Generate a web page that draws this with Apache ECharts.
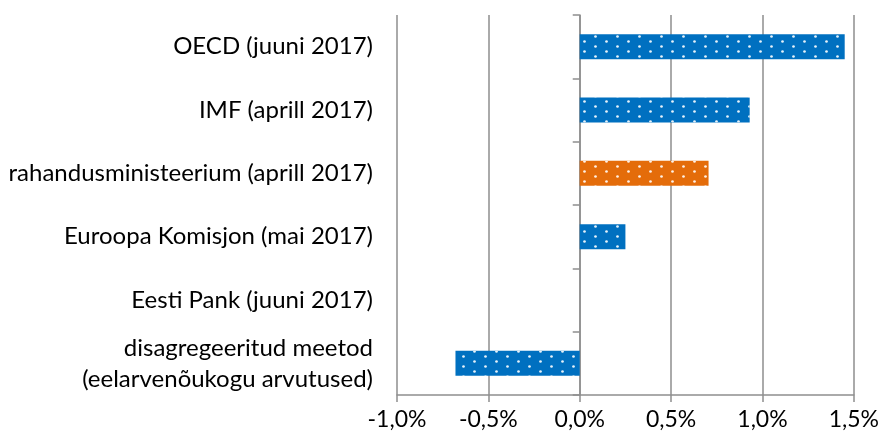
<!DOCTYPE html>
<html>
<head>
<meta charset="utf-8">
<script src="https://cdn.jsdelivr.net/npm/echarts@6/dist/echarts.min.js"></script>
<style>
  html, body { margin: 0; padding: 0; background: #fff; }
  #chart { width: 882px; height: 436px; }
</style>
</head>
<body>
<div id="chart"></div>
<script>
// categories top to bottom
const categories = [
  'OECD (juuni 2017)',
  'IMF (aprill 2017)',
  'rahandusministeerium (aprill 2017)',
  'Euroopa Komisjon (mai 2017)',
  'Eesti Pank (juuni 2017)',
  'disagregeeritud meetod\n(eelarvenõukogu arvutused)'
];
const values = [1.45, 0.93, 0.705, 0.25, 0, -0.68];
const highlighted = [2]; // orange bar
const xTicks = [-1.0, -0.5, 0.0, 0.5, 1.0, 1.5];

const blue = '#0070C0';
const orange = '#E46C0A';
const gridGray = '#8e8e8e';
const font = 'Lato';

const dots = {
  symbol: 'circle',
  symbolSize: 0.9,
  color: 'rgba(255,255,255,0.9)',
  dashArrayX: [[3, 19], [0, 11, 3, 8]],
  dashArrayY: [3, 2]
};

const barData = values.map((v, i) => {
  const isOrange = highlighted.indexOf(i) >= 0;
  return {
    value: v,
    itemStyle: { color: isOrange ? orange : blue, decal: dots }
  };
});

const myChart = echarts.init(document.getElementById('chart'));

const option = {
  animation: false,
  backgroundColor: '#fff',
  aria: { enabled: false },
  grid: { left: 397, right: 25, top: 15, bottom: 41 },
  xAxis: {
    type: 'value',
    min: xTicks[0],
    max: xTicks[xTicks.length - 1],
    interval: 0.5,
    axisLine: { show: true, lineStyle: { color: gridGray, width: 1.5 } },
    axisTick: { show: true, length: 7, lineStyle: { color: gridGray, width: 1.5 } },
    splitLine: { show: true, lineStyle: { color: gridGray, width: 1.5 } },
    axisLabel: {
      margin: 13,
      color: '#000',
      fontFamily: font,
      fontSize: 23,
      formatter: (v) => v.toFixed(1).replace('.', ',') + '%'
    }
  },
  yAxis: [
    {
      type: 'category',
      data: categories,
      inverse: true,
      position: 'left',
      axisLine: { show: false, onZero: false },
      axisTick: { show: false },
      axisLabel: {
        margin: 24,
        color: '#000',
        fontFamily: font,
        fontSize: 24,
        lineHeight: 31,
        align: 'right'
      }
    },
    {
      type: 'category',
      data: categories,
      inverse: true,
      position: 'left',
      axisLine: { show: true, onZero: true, lineStyle: { color: gridGray, width: 1.5 } },
      axisTick: { show: true, length: 7, lineStyle: { color: gridGray, width: 1.5 } },
      axisLabel: { show: false }
    }
  ],
  series: [
    {
      type: 'bar',
      yAxisIndex: 0,
      barWidth: 25,
      data: barData
    }
  ]
};

myChart.setOption(option);
</script>
</body>
</html>
